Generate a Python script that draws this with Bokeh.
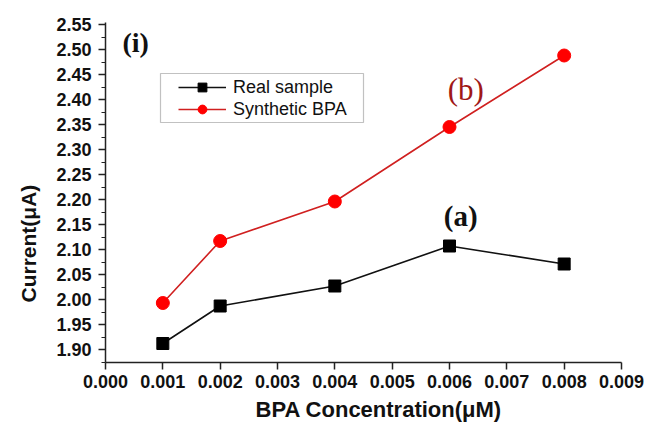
from bokeh.plotting import figure
from bokeh.models import Range1d, FixedTicker, NumeralTickFormatter, Label, Legend, LegendItem, BoxAnnotation, Title
from bokeh.embed import file_html
from bokeh.resources import INLINE

concentration = [0.001, 0.002, 0.004, 0.006, 0.008]
real_sample = [1.912, 1.987, 2.027, 2.107, 2.071]
synthetic_bpa = [1.993, 2.117, 2.196, 2.345, 2.488]
x_ticks = [0.000, 0.001, 0.002, 0.003, 0.004, 0.005, 0.006, 0.007, 0.008, 0.009]
y_ticks = [1.90, 1.95, 2.00, 2.05, 2.10, 2.15, 2.20, 2.25, 2.30, 2.35, 2.40, 2.45, 2.50, 2.55]
y_minor = [1.875 + 0.05 * i for i in range(14)]

p = figure(width=649, height=427, output_backend="svg", toolbar_location=None,
           x_range=Range1d(0, 0.009), y_range=Range1d(1.874, 2.554),
           min_border_left=105, min_border_right=28, min_border_top=22, min_border_bottom=65)
p.outline_line_color = None
p.grid.visible = False
p.background_fill_color = "white"
p.border_fill_color = "white"

for ax in (p.xaxis[0], p.yaxis[0]):
    ax.axis_line_width = 1.5
    ax.axis_line_color = "#222222"
    ax.major_tick_line_color = "#222222"
    ax.minor_tick_line_color = "#222222"
    ax.major_tick_line_width = 1.5
    ax.minor_tick_line_width = 1.2
    ax.major_tick_out = 7
    ax.major_tick_in = 0
    ax.minor_tick_out = 4
    ax.minor_tick_in = 0
    ax.major_label_text_font = "Liberation Sans"
    ax.major_label_text_font_style = "bold"
    ax.major_label_text_font_size = "18px"
    ax.major_label_text_color = "#111111"

p.xaxis[0].ticker = FixedTicker(ticks=x_ticks, minor_ticks=[])
p.yaxis[0].ticker = FixedTicker(ticks=y_ticks, minor_ticks=y_minor)
p.xaxis[0].formatter = NumeralTickFormatter(format="0.000")
p.yaxis[0].formatter = NumeralTickFormatter(format="0.00")
p.xaxis[0].major_label_standoff = 5
p.yaxis[0].major_label_standoff = 7

# axis titles (as titles so they can sit off-centre like in the reference)
p.add_layout(Title(text="BPA Concentration(\u03bcM)", align="left", offset=150,
                   text_font="Liberation Sans", text_font_style="bold",
                   text_font_size="22px", text_color="#111111", standoff=9), "below")
p.add_layout(Title(text="Current(\u03bcA)", align="left", offset=60,
                   text_font="Liberation Sans", text_font_style="bold",
                   text_font_size="21px", text_color="#111111", standoff=27), "left")

l1 = p.line(concentration, real_sample, line_color="#111111", line_width=1.6)
s1 = p.scatter(concentration, real_sample, marker="square", size=12, fill_color="black", line_color="black")
l2 = p.line(concentration, synthetic_bpa, line_color="#d02020", line_width=1.6)
s2 = p.scatter(concentration, synthetic_bpa, marker="circle", size=13, fill_color="#ff0000", line_color="#ff0000")

legend = Legend(items=[LegendItem(label="Real sample", renderers=[l1, s1]),
                       LegendItem(label="Synthetic BPA", renderers=[l2, s2])],
                location=(73, 242))
legend.border_line_color = None
legend.background_fill_alpha = 0
legend.label_text_font = "Liberation Sans"
legend.label_text_font_size = "18px"
legend.label_text_color = "#111111"
legend.glyph_width = 48
legend.glyph_height = 22
legend.label_height = 22
legend.label_standoff = 7
legend.spacing = 0
legend.padding = 0
legend.margin = 0
p.add_layout(legend, "center")
p.add_layout(BoxAnnotation(left=55, right=258, top=289, bottom=240,
                           left_units="screen", right_units="screen",
                           top_units="screen", bottom_units="screen",
                           fill_alpha=0, line_color="#333333", line_width=1.2))

p.add_layout(Label(x=17, y=320, x_units="screen", y_units="screen", text="(i)",
                   text_font="Liberation Serif", text_font_style="bold", text_font_size="28px",
                   text_color="#111111", text_baseline="middle"))
p.add_layout(Label(x=0.00597, y=2.42, text="(b)", text_font="Liberation Serif",
                   text_font_size="31px", text_color="#a01818", text_baseline="middle"))
p.add_layout(Label(x=0.00590, y=2.168, text="(a)", text_font="Liberation Serif",
                   text_font_style="bold", text_font_size="29px", text_color="#111111",
                   text_baseline="middle"))

open("out.html", "w").write(file_html(p, INLINE))
